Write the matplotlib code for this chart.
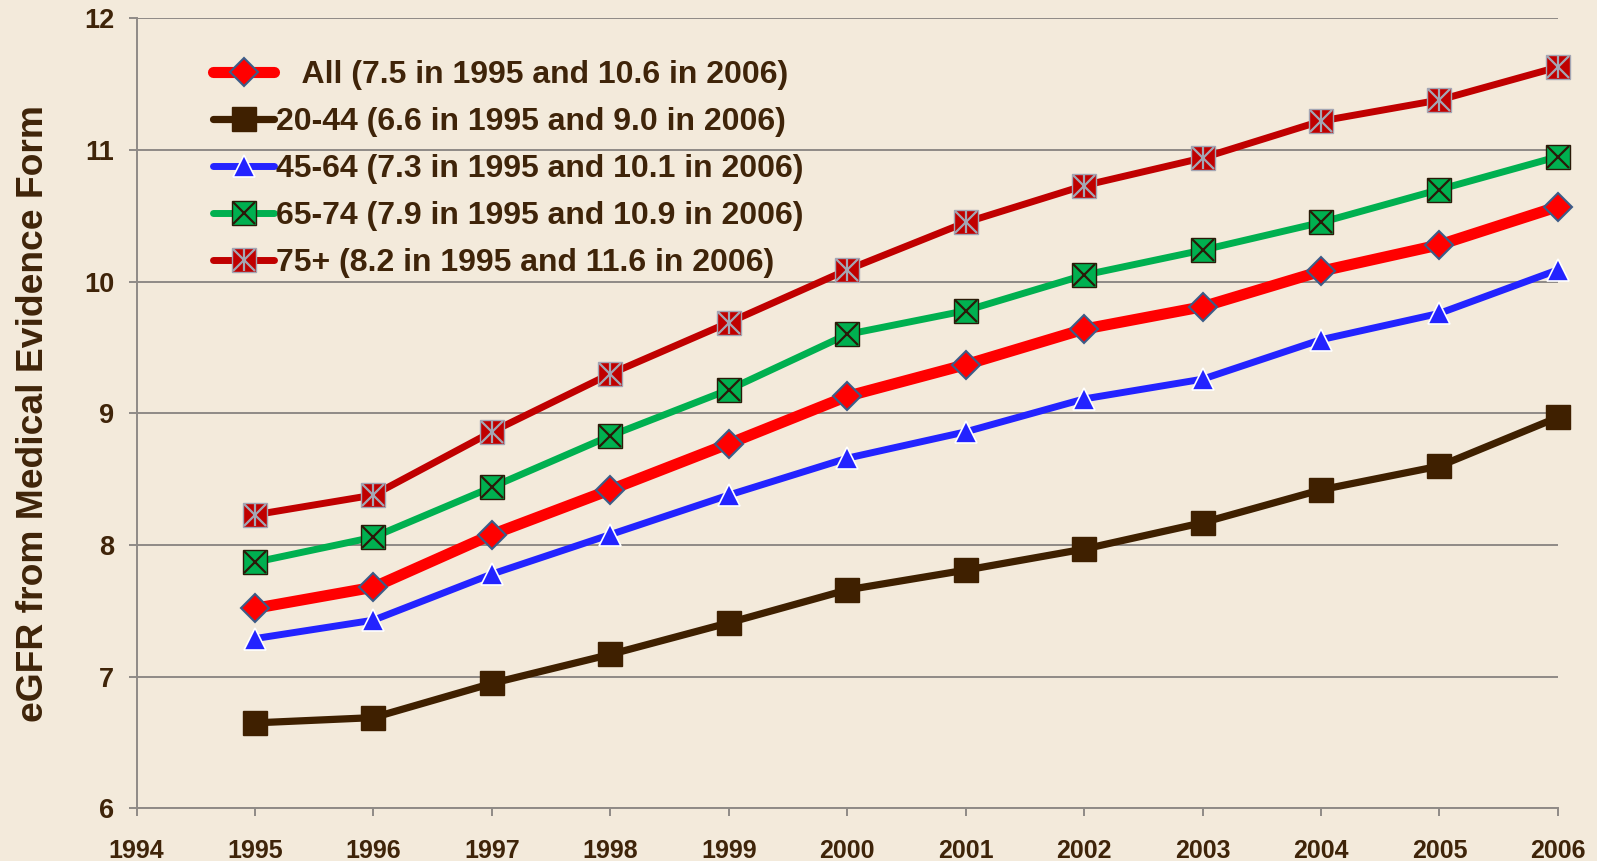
import matplotlib
matplotlib.use("Agg")
import matplotlib.pyplot as plt
from matplotlib.lines import Line2D

years = [1995, 1996, 1997, 1998, 1999, 2000, 2001, 2002, 2003, 2004, 2005, 2006]
all_vals = [7.52, 7.68, 8.08, 8.42, 8.77, 9.13, 9.37, 9.64, 9.81, 10.08, 10.28, 10.57]
a20_44 = [6.65, 6.69, 6.95, 7.17, 7.41, 7.66, 7.81, 7.97, 8.17, 8.42, 8.60, 8.97]
a45_64 = [7.29, 7.43, 7.78, 8.08, 8.38, 8.66, 8.86, 9.11, 9.26, 9.56, 9.76, 10.09]
a65_74 = [7.87, 8.06, 8.44, 8.83, 9.18, 9.60, 9.78, 10.05, 10.24, 10.45, 10.70, 10.95]
a75p = [8.23, 8.38, 8.86, 9.30, 9.69, 10.09, 10.45, 10.73, 10.94, 11.22, 11.38, 11.63]

labels = ["   All (7.5 in 1995 and 10.6 in 2006)",
          "20-44 (6.6 in 1995 and 9.0 in 2006)",
          "45-64 (7.3 in 1995 and 10.1 in 2006)",
          "65-74 (7.9 in 1995 and 10.9 in 2006)",
          "75+ (8.2 in 1995 and 11.6 in 2006)"]
ylabel = "eGFR from Medical Evidence Form"
xticks = list(range(1994, 2007))
yticks = [6, 7, 8, 9, 10, 11, 12]

TXT = "#3f2409"
BG = "#f3eadb"
GRID = "#8f8a86"
plt.rcParams['font.family'] = ['Liberation Sans', 'DejaVu Sans']

fig = plt.figure(figsize=(15.97, 8.61), dpi=100, facecolor=BG)
ax = fig.add_axes([0.0855, 0.061, 0.8900, 0.9177])
ax.set_facecolor(BG)

common = dict(solid_capstyle="round", zorder=3, clip_on=False)
# All
h_all, = ax.plot(years, all_vals, color="#ff0000", lw=8, marker="D", ms=14.5,
                 mfc="#ff0000", mec="#3b5c88", mew=1.5, **common)
# 20-44
h_2044, = ax.plot(years, a20_44, color="#3f2000", lw=5.2, marker="s", ms=17.5,
                  mfc="#3f2000", mec="#3f2000", mew=1, **common)
# 45-64
h_4564, = ax.plot(years, a45_64, color="#2323ff", lw=5, marker="^", ms=16,
                  mfc="#2323ff", mec="white", mew=1.2, **common)
# 65-74
h_6574, = ax.plot(years, a65_74, color="#00b050", lw=5, marker="s", ms=17,
                  mfc="#00b050", mec="#2a1a08", mew=1, **common)
h_6574x, = ax.plot(years, a65_74, ls="none", marker="x", ms=16, mec="#2a1a08",
                   mew=1.6, zorder=4, clip_on=False)
# 75+
h_75, = ax.plot(years, a75p, color="#c00000", lw=5, marker="s", ms=17,
                mfc="#c00000", mec="#a3a6b4", mew=1, **common)
h_75x, = ax.plot(years, a75p, ls="none", marker="x", ms=16, mec="#a3a6b4",
                 mew=1.6, zorder=4, clip_on=False)
h_75v, = ax.plot(years, a75p, ls="none", marker="|", ms=16, mec="#a3a6b4",
                 mew=1.6, zorder=4, clip_on=False)

ax.set_xlim(1994, 2006)
ax.set_ylim(6, 12)
ax.set_xticks(xticks)
ax.set_yticks(yticks)
ax.yaxis.grid(True, color=GRID, lw=1.4)
ax.set_axisbelow(True)
for s in ["top", "right"]:
    ax.spines[s].set_visible(False)
for s in ["left", "bottom"]:
    ax.spines[s].set_color(GRID)
    ax.spines[s].set_linewidth(1.4)
ax.tick_params(axis="both", direction="out", length=6, width=1.4, color=GRID,
               labelcolor=TXT)
ax.tick_params(axis="x", pad=16, labelsize=18)
ax.tick_params(axis="y", pad=10, labelsize=19.5)
for t in ax.get_xticklabels() + ax.get_yticklabels():
    t.set_fontweight("bold")

fig.text(0.0207, 0.52, ylabel, rotation=90, ha="center", va="center",
         fontsize=26.8, fontweight="bold", color=TXT)

leg = ax.legend([h_all, h_2044, h_4564, (h_6574, h_6574x), (h_75, h_75x, h_75v)], labels,
                loc="upper left", bbox_to_anchor=(0.054, 0.947), frameon=False,
                fontsize=23, handlelength=1.9, handletextpad=0.05, labelspacing=0.53,
                borderaxespad=0, borderpad=0)
for t in leg.get_texts():
    t.set_color(TXT)
    t.set_fontweight("bold")

fig.savefig("out.png", dpi=100, facecolor=BG)
